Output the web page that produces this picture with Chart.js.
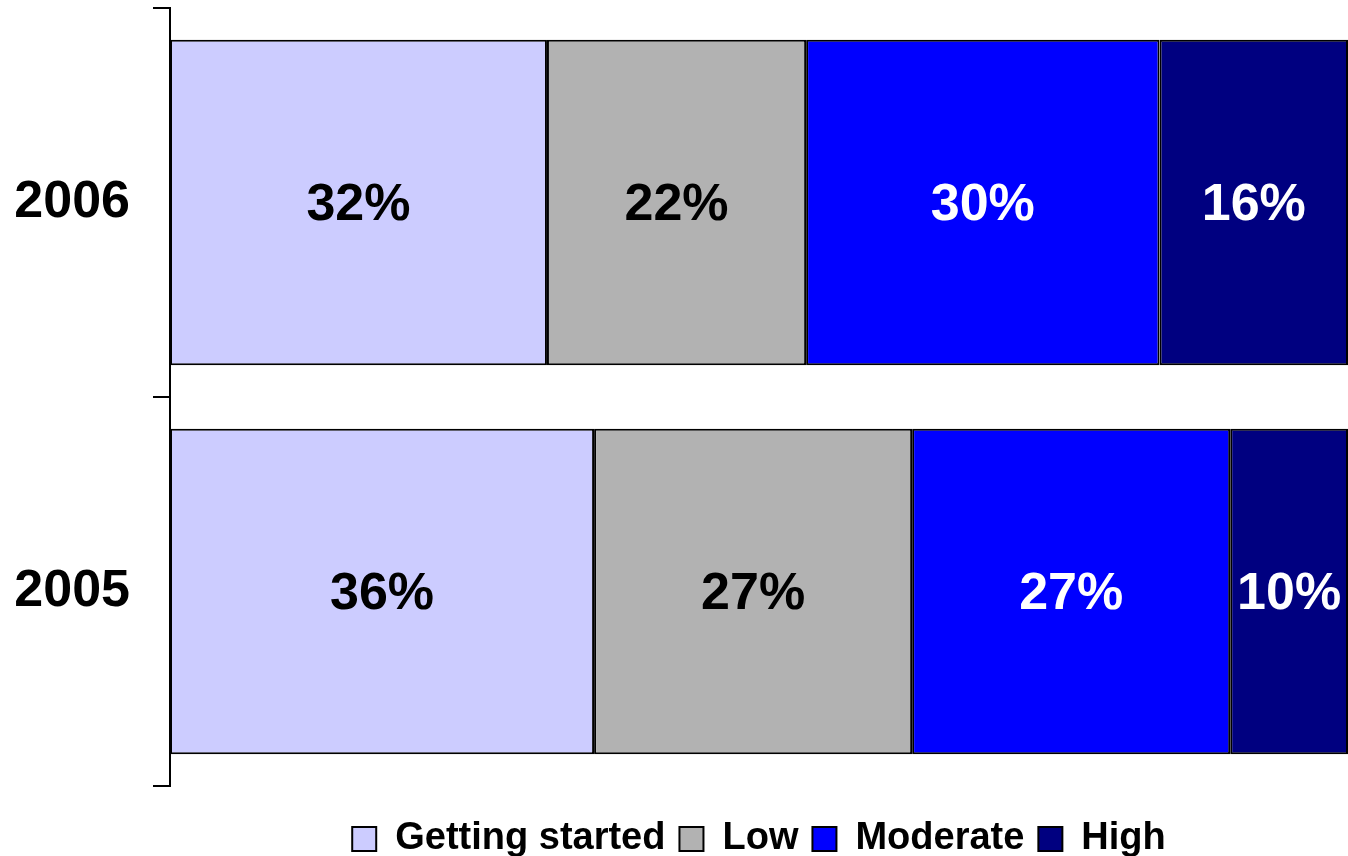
<!DOCTYPE html>
<html>
<head>
<meta charset="utf-8">
<script src="https://cdn.jsdelivr.net/npm/chart.js@4"></script>
<style>
  html, body { margin: 0; padding: 0; background: #fff; overflow: hidden; }
  #wrap { width: 1348px; height: 856px; }
</style>
</head>
<body>
<div id="wrap"><canvas id="levelChart"></canvas></div>
<script>
// Share of respondents at each level, by year
const years = ['2006', '2005'];
const levels = ['Getting started', 'Low', 'Moderate', 'High'];
const gettingStarted = [32, 36];
const low = [22, 27];
const moderate = [30, 27];
const high = [16, 10];

const fills = ['#CCCCFF', '#B2B2B2', '#0000FF', '#000080'];
const labelColors = ['#000000', '#000000', '#FFFFFF', '#FFFFFF'];
const family = '"Liberation Sans", Arial, Helvetica, sans-serif';

// Writes the percentage in the middle of each segment
const barLabels = {
    id: 'barLabels',
    afterDatasetsDraw(chart) {
        const ctx = chart.ctx;
        ctx.save();
        ctx.font = 'bold 52px ' + family;
        ctx.textAlign = 'center';
        ctx.textBaseline = 'middle';
        chart.data.datasets.forEach((ds, i) => {
            chart.getDatasetMeta(i).data.forEach((bar, j) => {
                const c = bar.getCenterPoint();
                ctx.fillStyle = labelColors[i];
                ctx.fillText(ds.data[j] + '%', c.x, c.y + 3);
            });
        });
        ctx.restore();
    }
};

// Pushes the legend a little lower, into the bottom margin
const legendDrop = {
    id: 'legendDrop',
    afterLayout(chart) {
        chart.legend.top += 20;
        chart.legend.bottom += 20;
    }
};

const series = [gettingStarted, low, moderate, high];

new Chart(document.getElementById('levelChart'), {
    type: 'bar',
    data: {
        labels: years,
        datasets: series.map((values, i) => ({
            label: levels[i],
            data: values,
            backgroundColor: fills[i],
            borderColor: '#000000',
            borderWidth: 2,
            borderSkipped: false,
            categoryPercentage: 1,
            barPercentage: 0.837
        }))
    },
    options: {
        indexAxis: 'y',
        responsive: true,
        maintainAspectRatio: false,
        animation: false,
        layout: { padding: { top: 8, right: 0, bottom: 8, left: 0 } },
        scales: {
            x: { stacked: true, min: 0, max: 100, display: false },
            y: {
                stacked: true,
                offset: true,
                grid: {
                    offset: true,
                    drawOnChartArea: false,
                    drawTicks: true,
                    tickLength: 17,
                    color: '#000000',
                    lineWidth: 2
                },
                border: { display: true, color: '#000000', width: 2 },
                ticks: {
                    color: '#000000',
                    padding: 23,
                    font: { family: family, size: 52, weight: 'bold' }
                },
                afterFit(scale) {
                    scale.width = 170;
                    scale.paddingTop = 0;
                    scale.paddingBottom = 0;
                }
            }
        },
        plugins: {
            legend: {
                position: 'bottom',
                fullSize: false,
                labels: {
                    boxWidth: 24,
                    boxHeight: 24,
                    padding: 14,
                    color: '#000000',
                    font: { family: family, size: 38, weight: 'bold' }
                }
            },
            tooltip: { enabled: false }
        }
    },
    plugins: [barLabels, legendDrop]
});
</script>
</body>
</html>
